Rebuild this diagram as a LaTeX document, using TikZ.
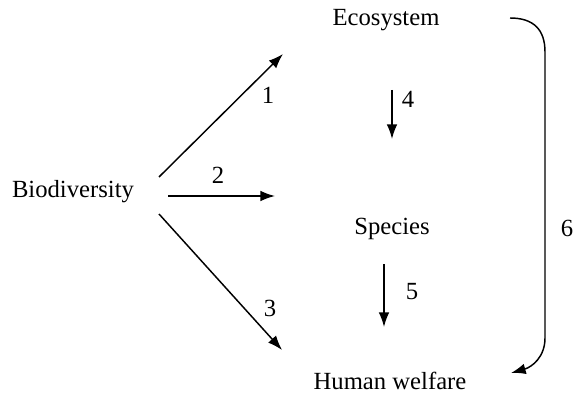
\documentclass[tikz,border=0pt]{standalone}
\usepackage{fontspec}
\setmainfont{Liberation Serif}
\usetikzlibrary{arrows.meta}
\begin{document}
\begin{tikzpicture}[x=0.75pt, y=-0.75pt, line width=1.1pt,
  term/.style={font=\fontsize{18.5}{21}\selectfont, inner sep=0pt},
  num/.style={font=\fontsize{18.5}{21}\selectfont, inner sep=0pt},
  link/.style={-{Latex[length=11pt,width=8pt]}}]
\useasboundingbox (0,0) rectangle (573,395);

% The four terms first, they fix everything else.
\node[term] (bio) at (73,192) {Biodiversity};
\node[term] (eco) at (386,20) {Ecosystem};
\node[term] (spec) at (392,229) {Species};
\node[term] (hum) at (390,381) {Human welfare};

% Ends of the arrows, taken off the terms.
\coordinate (s1) at ([shift={(86,-15)}]bio.center);
\coordinate (e1) at ([shift={(-103,34)}]eco.center);
\coordinate (s2) at ([shift={(95,4)}]bio.center);
\coordinate (e2) at ([shift={(-117,-33)}]spec.center);
\coordinate (s3) at ([shift={(86,22)}]bio.center);
\coordinate (e3) at ([shift={(-108,-31)}]hum.center);

% Arrows out of biodiversity
\draw[link] (s1) -- (e1);
\draw[link] (s2) -- (e2);
\draw[link] (s3) -- (e3);

% Arrows down the middle
\draw[link] ([shift={(6,70)}]eco.center) -- ([shift={(0,-90)}]spec.center);
\draw[link] ([shift={(-8,35)}]spec.center) -- ([shift={(-6,-54)}]hum.center);

% The long bracket on the right
\draw[link] ([shift={(124,-2)}]eco.center)
  .. controls (534,18) and (545,30) .. (545,52)
  -- (545,338)
  .. controls (545,357) and (532,367) .. ([shift={(121,-8)}]hum.center);

% Numbers
\foreach \n/\x/\y in {1/268/95, 2/218/175, 3/270/308, 4/408/99, 5/412/292, 6/567/228}
  \node[num] (n\n) at (\x,\y) {\n};
\end{tikzpicture}
\end{document}
